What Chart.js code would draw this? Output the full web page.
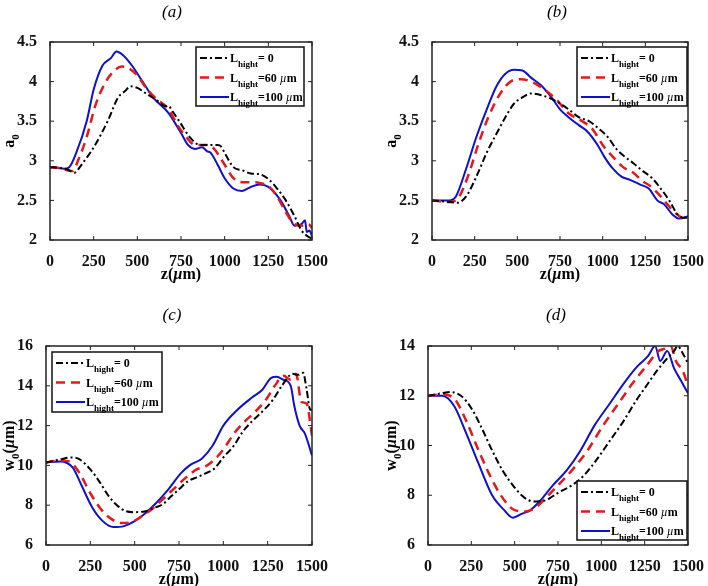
<!DOCTYPE html>
<html>
<head>
<meta charset="utf-8">
<script src="https://cdn.jsdelivr.net/npm/chart.js@4"></script>
<style>
  body { margin: 0; background: #fff; }
  #wrap { position: relative; width: 708px; height: 586px; }
  .panel { position: absolute; width: 354px; height: 293px; }
</style>
</head>
<body>
<div id="wrap">
  <div class="panel" style="left:0;top:0"><canvas id="pa"></canvas></div>
  <div class="panel" style="left:354px;top:0"><canvas id="pb"></canvas></div>
  <div class="panel" style="left:0;top:293px"><canvas id="pc"></canvas></div>
  <div class="panel" style="left:354px;top:293px"><canvas id="pd"></canvas></div>
</div>
<script>
// series labels / tick grid
const legendValues = ['= 0', '=60 ', '=100 '];
const zTicks = [0, 250, 500, 750, 1000, 1250, 1500];

// panel (a) a0
const aBlackZ = [0,50,100,140,180,250,330,390,430,460,500,550,620,660,680,700,740,800,860,900,960,980,1000,1050,1100,1150,1200,1250,1300,1350,1400,1440,1480,1500];
const aBlackV = [2.92,2.91,2.89,2.85,2.95,3.17,3.5,3.8,3.88,3.94,3.92,3.85,3.75,3.69,3.69,3.63,3.5,3.3,3.2,3.2,3.2,3.18,3.1,2.92,2.88,2.84,2.83,2.77,2.65,2.5,2.3,2.12,2.04,2.02];
const aRedZ = [0,50,100,130,160,210,260,320,370,410,440,500,540,600,680,730,780,830,900,940,1000,1050,1100,1150,1200,1250,1300,1350,1400,1450,1480,1500];
const aRedV = [2.92,2.91,2.88,2.87,3.0,3.3,3.7,4.0,4.14,4.19,4.18,4.08,3.95,3.8,3.65,3.45,3.3,3.2,3.2,3.15,2.95,2.78,2.73,2.73,2.72,2.68,2.55,2.35,2.2,2.18,2.2,2.15];
const aBlueZ = [0,50,80,110,150,210,250,300,350,380,420,470,530,590,680,750,790,830,870,900,920,960,1000,1050,1100,1150,1200,1250,1320,1370,1400,1440,1460,1470,1485,1500];
const aBlueV = [2.92,2.91,2.9,2.92,3.1,3.5,3.9,4.2,4.3,4.38,4.33,4.2,4.0,3.8,3.6,3.35,3.2,3.15,3.17,3.12,3.1,2.95,2.78,2.65,2.62,2.67,2.7,2.67,2.5,2.3,2.18,2.2,2.25,2.1,2.12,2.05];

// panel (b) a0
const bBlackZ = [0,100,150,200,260,320,380,430,480,530,580,620,680,730,800,860,920,980,1030,1080,1130,1180,1230,1290,1340,1390,1440,1480,1500];
const bBlackV = [2.5,2.48,2.47,2.55,2.8,3.1,3.35,3.55,3.72,3.8,3.85,3.84,3.8,3.75,3.65,3.55,3.5,3.4,3.3,3.15,3.05,2.97,2.88,2.78,2.65,2.5,2.32,2.28,2.28];
const bRedZ = [0,100,150,210,270,330,400,460,520,600,670,730,800,880,940,1000,1060,1120,1180,1230,1280,1340,1400,1450,1500];
const bRedV = [2.5,2.48,2.52,2.8,3.2,3.55,3.85,4.0,4.03,3.98,3.88,3.77,3.6,3.5,3.4,3.2,3.05,2.92,2.85,2.75,2.68,2.55,2.4,2.3,2.25];
const bBlueZ = [0,100,140,200,260,330,380,430,480,530,580,640,700,750,800,860,910,970,1010,1060,1110,1160,1220,1270,1320,1360,1410,1450,1500];
const bBlueV = [2.5,2.5,2.55,2.9,3.3,3.7,3.95,4.1,4.15,4.14,4.05,3.95,3.8,3.65,3.55,3.45,3.37,3.2,3.05,2.9,2.8,2.76,2.7,2.65,2.5,2.45,2.32,2.27,2.3];

// panel (c) w0
const cBlackZ = [0,80,140,190,250,300,350,400,450,500,560,620,660,700,750,800,850,900,950,1000,1060,1110,1160,1230,1280,1330,1390,1420,1450,1470,1490,1500];
const cBlackV = [10.15,10.3,10.4,10.3,9.8,9.2,8.5,8.0,7.7,7.65,7.7,7.9,8.05,8.4,8.8,9.2,9.4,9.6,9.85,10.4,11.0,11.7,12.2,12.8,13.3,14.0,14.6,14.55,14.65,13.8,12.8,12.8];
const cRedZ = [0,80,130,190,250,310,370,420,480,550,610,670,730,790,850,900,950,1000,1060,1120,1180,1240,1290,1340,1380,1410,1440,1470,1500];
const cRedV = [10.15,10.25,10.2,9.6,8.6,7.8,7.3,7.1,7.15,7.5,7.9,8.4,8.9,9.4,9.8,9.95,10.3,10.8,11.6,12.2,12.7,13.3,14.0,14.5,14.3,14.6,13.2,13.1,11.5];
const cBlueZ = [0,80,150,200,260,320,380,440,500,560,620,690,760,810,880,940,1000,1080,1160,1220,1270,1300,1340,1380,1400,1430,1460,1500];
const cBlueV = [10.15,10.2,9.9,9.0,7.9,7.2,6.9,6.95,7.2,7.6,8.1,8.8,9.6,10.0,10.35,11.0,12.0,12.8,13.4,13.8,14.4,14.45,14.3,14.0,13.0,12.0,11.6,10.5];

// panel (d) w0
const dBlackZ = [0,80,130,190,250,310,370,430,490,540,580,620,680,750,830,900,970,1050,1130,1200,1260,1320,1380,1420,1440,1470,1500];
const dBlackV = [12.0,12.1,12.15,12.0,11.5,10.7,9.8,9.0,8.4,8.0,7.8,7.75,7.8,8.1,8.4,8.8,9.4,10.2,11.0,11.8,12.4,13.0,13.5,13.8,14.0,13.7,13.3];
const dRedZ = [0,80,150,220,280,350,420,500,560,620,680,750,830,920,1010,1100,1180,1260,1330,1370,1400,1430,1470,1500];
const dRedV = [12.0,12.05,11.9,11.0,10.0,8.9,8.0,7.4,7.35,7.5,7.9,8.4,9.0,9.8,10.8,11.7,12.5,13.2,13.8,13.9,14.0,13.4,13.0,12.4];
const dBlueZ = [0,80,150,220,290,370,440,490,540,590,650,720,800,880,960,1050,1130,1210,1270,1310,1340,1380,1420,1460,1500];
const dBlueV = [12.0,12.0,11.6,10.5,9.3,8.0,7.4,7.1,7.25,7.4,7.8,8.4,9.0,9.8,10.8,11.7,12.5,13.2,13.6,14.0,13.4,13.8,13.1,12.6,12.1];

const SERIF = '"Liberation Serif", "DejaVu Serif", serif';

function pts(zs, vs) {
  return zs.map((z, i) => ({ x: z, y: vs[i] }));
}

function makeSets(bz, bv, rz, rv, uz, uv) {
  return [
    { data: pts(bz, bv), borderColor: '#000', borderWidth: 2, borderDash: [7, 3, 2, 3] },
    { data: pts(rz, rv), borderColor: '#e41a1a', borderWidth: 2.5, borderDash: [9, 6] },
    { data: pts(uz, uv), borderColor: '#1010c8', borderWidth: 2 }
  ];
}

// draw a list of text runs left to right
function drawRuns(ctx, runs, x, y, align) {
  let total = 0;
  runs.forEach(r => { ctx.font = r.font; total += ctx.measureText(r.t).width; });
  let cx = align === 'center' ? x - total / 2 : x;
  ctx.textBaseline = 'alphabetic';
  ctx.textAlign = 'left';
  runs.forEach(r => {
    ctx.font = r.font;
    ctx.fillText(r.t, cx, y + (r.dy || 0));
    cx += ctx.measureText(r.t).width;
  });
}

const B15 = 'bold 16px ' + SERIF;
const B12 = 'bold 12px ' + SERIF;
const B9 = 'bold 9px ' + SERIF;
const B10 = 'bold 11px ' + SERIF;
const I15 = 'italic bold 16px ' + SERIF;
const I12 = 'italic 12px ' + SERIF;

const deco = {
  id: 'deco',
  afterDraw(chart) {
    const o = chart.options.plugins.deco;
    const ctx = chart.ctx;
    const a = chart.chartArea;
    const xs = chart.scales.x, ys = chart.scales.y;
    ctx.save();
    ctx.fillStyle = '#000';
    ctx.strokeStyle = '#222';
    // box
    ctx.lineWidth = 1.5;
    ctx.strokeRect(a.left, a.top, a.right - a.left, a.bottom - a.top);
    // inward ticks on all sides
    ctx.lineWidth = 1;
    ctx.beginPath();
    xs.ticks.forEach(t => {
      const px = xs.getPixelForValue(t.value);
      ctx.moveTo(px, a.bottom); ctx.lineTo(px, a.bottom - 4);
      ctx.moveTo(px, a.top); ctx.lineTo(px, a.top + 4);
    });
    ys.ticks.forEach(t => {
      const py = ys.getPixelForValue(t.value);
      ctx.moveTo(a.left, py); ctx.lineTo(a.left + 4, py);
      ctx.moveTo(a.right, py); ctx.lineTo(a.right - 4, py);
    });
    ctx.stroke();

    // panel title
    ctx.font = 'italic 17px ' + SERIF;
    ctx.textAlign = 'center';
    ctx.textBaseline = 'middle';
    ctx.fillText(o.title, o.titleX, o.titleY);

    // x title
    drawRuns(ctx, [{ t: 'z(', font: B15 }, { t: 'µ', font: I15 }, { t: 'm)', font: B15 }],
      (a.left + a.right) / 2, o.xTitleY, 'center');

    // y title, rotated
    ctx.save();
    ctx.translate(o.yTitleX, (a.top + a.bottom) / 2);
    ctx.rotate(-Math.PI / 2);
    drawRuns(ctx, o.yRuns, 0, 0, 'center');
    ctx.restore();

    // legend
    const L = o.legend;
    ctx.fillStyle = '#fff';
    ctx.fillRect(L.x, L.y, L.w, L.h);
    ctx.lineWidth = 1.5;
    ctx.strokeStyle = '#111';
    ctx.strokeRect(L.x, L.y, L.w, L.h);
    chart.data.datasets.forEach((ds, i) => {
      const ly = L.y + 11 + i * 19.5;
      ctx.save();
      ctx.strokeStyle = ds.borderColor;
      ctx.lineWidth = ds.borderWidth;
      ctx.setLineDash(ds.borderDash || []);
      ctx.beginPath();
      ctx.moveTo(L.x + 4, ly);
      ctx.lineTo(L.x + 33, ly);
      ctx.stroke();
      ctx.restore();
      ctx.fillStyle = '#000';
      const runs = [{ t: 'L', font: B12 }, { t: 'hight', font: B9, dy: 5 }, { t: legendValues[i], font: B12 }];
      if (i > 0) { runs.push({ t: 'µ', font: I12 }); runs.push({ t: 'm', font: B12 }); }
      drawRuns(ctx, runs, L.x + 34, ly + 4, 'left');
    });
    ctx.restore();
  }
};

function makeChart(id, sets, cfg) {
  const tickFont = { family: SERIF, size: 16, weight: 'bold' };
  return new Chart(document.getElementById(id), {
    type: 'line',
    data: { datasets: sets.map(s => Object.assign({ pointRadius: 0, fill: false, tension: 0, cubicInterpolationMode: 'monotone' }, s)) },
    options: {
      responsive: false,
      animation: false,
      layout: { padding: { left: 0, right: cfg.padRight, top: cfg.padTop, bottom: 0 } },
      plugins: { legend: { display: false }, tooltip: { enabled: false }, deco: cfg.deco },
      scales: {
        x: {
          type: 'linear', min: 0, max: 1500,
          afterBuildTicks: s => { s.ticks = zTicks.map(v => ({ value: v })); },
          afterFit: s => { s.height = cfg.xH; },
          grid: { display: false }, border: { display: false },
          ticks: { color: '#111', font: tickFont, padding: 4, maxRotation: 0, callback: v => String(v) }
        },
        y: {
          type: 'linear', min: cfg.yMin, max: cfg.yMax,
          afterBuildTicks: s => { s.ticks = cfg.yTicks.map(v => ({ value: v })); },
          afterFit: s => { s.width = cfg.yW; },
          grid: { display: false }, border: { display: false },
          ticks: { color: '#111', font: tickFont, padding: 5, callback: v => String(v) }
        }
      }
    },
    plugins: [deco]
  });
}

const aTicks = [2, 2.5, 3, 3.5, 4, 4.5];
const cTicks = [6, 8, 10, 12, 14, 16];
const dTicks = [6, 8, 10, 12, 14];
const aRuns = [{ t: 'a', font: B15 }, { t: '0', font: B10, dy: 5 }];
const wRuns = [{ t: 'w', font: B15 }, { t: '0', font: B10, dy: 5 }, { t: '(', font: B15 }, { t: 'µ', font: I15 }, { t: 'm)', font: B15 }];

['pa', 'pb', 'pc', 'pd'].forEach(id => {
  const c = document.getElementById(id);
  c.width = 354; c.height = 293;
  c.style.width = '354px'; c.style.height = '293px';
});

makeChart('pa', makeSets(aBlackZ, aBlackV, aRedZ, aRedV, aBlueZ, aBlueV), {
  padRight: 42, padTop: 42, xH: 53, yW: 50, yMin: 2, yMax: 4.5, yTicks: aTicks,
  deco: { title: '(a)', titleX: 172, titleY: 13, xTitleY: 279, yTitleX: 14, yRuns: aRuns,
          legend: { x: 196, y: 47, w: 108, h: 59 } }
});
makeChart('pb', makeSets(bBlackZ, bBlackV, bRedZ, bRedV, bBlueZ, bBlueV), {
  padRight: 14, padTop: 42, xH: 53, yW: 78, yMin: 2, yMax: 4.5, yTicks: aTicks,
  deco: { title: '(b)', titleX: 203, titleY: 13, xTitleY: 279, yTitleX: 42, yRuns: aRuns,
          legend: { x: 223, y: 47, w: 110, h: 59 } }
});
makeChart('pc', makeSets(cBlackZ, cBlackV, cRedZ, cRedV, cBlueZ, cBlueV), {
  padRight: 42, padTop: 53, xH: 41, yW: 46, yMin: 6, yMax: 16, yTicks: cTicks,
  deco: { title: '(c)', titleX: 172, titleY: 23, xTitleY: 291, yTitleX: 14, yRuns: wRuns,
          legend: { x: 52, y: 59, w: 110, h: 60 } }
});
makeChart('pd', makeSets(dBlackZ, dBlackV, dRedZ, dRedV, dBlueZ, dBlueV), {
  padRight: 14, padTop: 53, xH: 41, yW: 74, yMin: 6, yMax: 14, yTicks: dTicks,
  deco: { title: '(d)', titleX: 202, titleY: 23, xTitleY: 291, yTitleX: 42, yRuns: wRuns,
          legend: { x: 223, y: 188, w: 110, h: 59 } }
});
</script>
</body>
</html>
